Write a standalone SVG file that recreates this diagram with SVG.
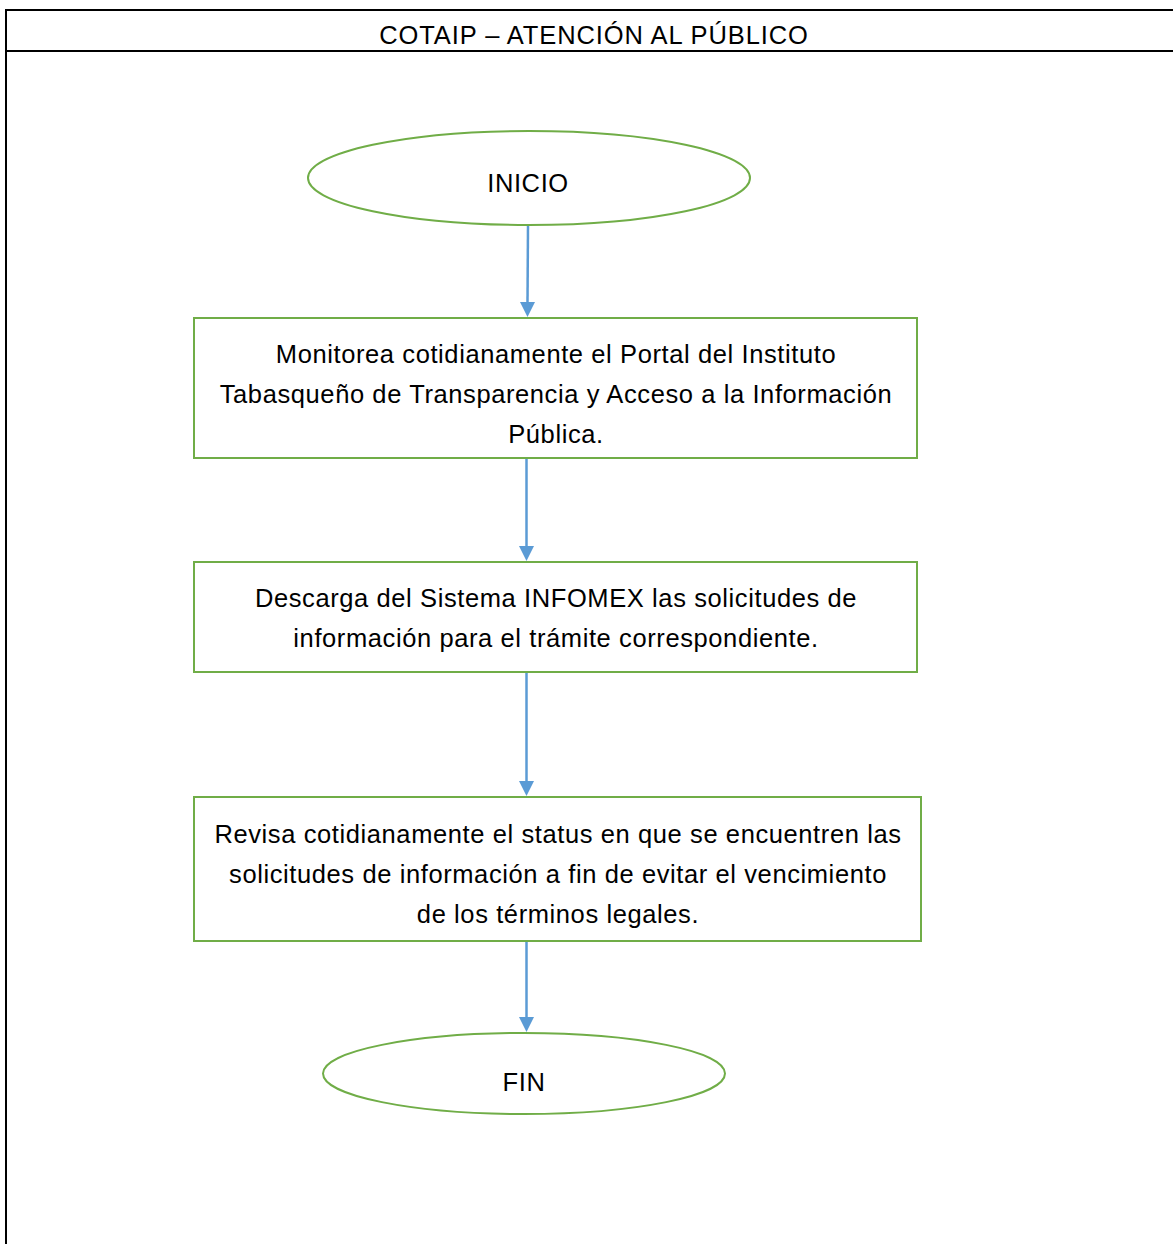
<svg xmlns="http://www.w3.org/2000/svg" width="1173" height="1244" viewBox="0 0 1173 1244">
<style>
text{font-family:"Liberation Sans",Arial,sans-serif;font-size:25.5px;letter-spacing:0.6px;fill:#000;text-anchor:middle}
.hdr{letter-spacing:0.9px}
.shape{fill:#fff;stroke:#70AD47;stroke-width:2}
.conn{stroke:#5B9BD5;stroke-width:2.5;fill:none}
.head{fill:#5B9BD5}
.frame{stroke:#000;stroke-width:2;fill:none}
</style>
<rect width="1173" height="1244" fill="#fff"/>
<g id="frame">
<line class="frame" x1="6" y1="10" x2="1173" y2="10"/>
<line class="frame" x1="6" y1="51" x2="1173" y2="51"/>
<line class="frame" x1="6" y1="9" x2="6" y2="1244"/>
<text class="hdr" x="594" y="44">COTAIP – ATENCIÓN AL PÚBLICO</text>
</g>
<g id="connectors">
<line class="conn" x1="528" y1="225" x2="527.5" y2="302"/>
<path class="head" d="M520,302 L535,302 L527.5,317 z"/>
<line class="conn" x1="526.5" y1="458" x2="526.5" y2="546"/>
<path class="head" d="M519,546 L534,546 L526.5,561 z"/>
<line class="conn" x1="526.5" y1="672" x2="526.5" y2="781"/>
<path class="head" d="M519,781 L534,781 L526.5,796 z"/>
<line class="conn" x1="526.5" y1="941" x2="526.5" y2="1017"/>
<path class="head" d="M519,1017 L534,1017 L526.5,1032 z"/>
</g>
<g id="inicio">
<ellipse class="shape" cx="529" cy="178" rx="221" ry="47"/>
<text x="528" y="192">INICIO</text>
</g>
<g id="monitorea">
<rect class="shape" x="194" y="318" width="723" height="140"/>
<text x="556" y="363">Monitorea cotidianamente el Portal del Instituto</text>
<text x="556" y="403">Tabasqueño de Transparencia y Acceso a la Información</text>
<text x="556" y="443">Pública.</text>
</g>
<g id="descarga">
<rect class="shape" x="194" y="562" width="723" height="110"/>
<text x="556" y="607">Descarga del Sistema INFOMEX las solicitudes de</text>
<text x="556" y="647">información para el trámite correspondiente.</text>
</g>
<g id="revisa">
<rect class="shape" x="194" y="797" width="727" height="144"/>
<text x="558" y="843">Revisa cotidianamente el status en que se encuentren las</text>
<text x="558" y="883">solicitudes de información a fin de evitar el vencimiento</text>
<text x="558" y="923">de los términos legales.</text>
</g>
<g id="fin">
<ellipse class="shape" cx="524" cy="1073.5" rx="201" ry="40.5"/>
<text x="524" y="1091">FIN</text>
</g>
</svg>
